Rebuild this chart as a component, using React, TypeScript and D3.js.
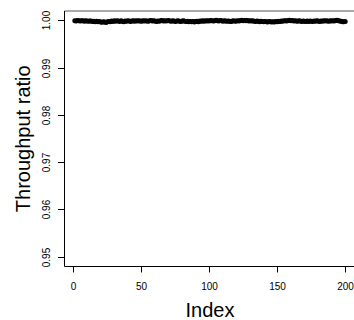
import React from "react";
import * as d3 from "d3";

const ratios: number[] = [
  0.99995, 0.9999, 0.99998, 0.99993, 0.99988, 0.99996, 0.99991, 0.99985, 0.99994, 0.99989,
  0.99982, 0.9999, 0.99986, 0.99978, 0.99984, 0.99975, 0.99981, 0.9997, 0.99976, 0.99968,
  0.99962, 0.99972, 0.99966, 0.99958, 0.9997, 0.9998, 0.99974, 0.99986, 0.99979, 0.99991,
  0.99984, 0.99996, 0.99988, 0.99979, 0.99992, 0.99983, 0.99975, 0.99987, 0.99981, 0.99993,
  0.99986, 0.99978, 0.9999, 0.99995, 0.99984, 0.99991, 0.99987, 0.99996, 0.99989, 0.99983,
  0.99992, 0.99986, 0.99995, 0.9999, 0.99984, 0.99993, 0.99998, 0.99988, 0.99994, 0.99987,
  0.9998, 0.9999, 0.99985, 0.99993, 0.99997, 0.99989, 0.99995, 0.99986, 0.99992, 0.99998,
  0.9999, 0.99983, 0.99993, 0.99987, 0.99979, 0.99988, 0.99995, 0.99984, 0.99978, 0.99986,
  0.99992, 0.99981, 0.99976, 0.99985, 0.99973, 0.9998, 0.9997, 0.99978, 0.99968, 0.99977,
  0.99984, 0.99975, 0.99988, 0.99982, 0.99991, 0.99985, 0.99994, 0.99987, 0.99996, 0.9999,
  0.99999, 0.99992, 0.99986, 0.99996, 1.00002, 0.99993, 0.99988, 0.99997, 0.99991, 0.99985,
  0.99994, 0.99988, 0.99981, 0.9999, 0.99985, 0.99978, 0.99988, 0.99993, 0.99984, 0.9999,
  0.99996, 0.99989, 0.99998, 1.00003, 0.99994, 1.00001, 0.99991, 0.99997, 0.99988, 0.99993,
  0.99986, 0.99991, 0.99984, 0.99978, 0.99987, 0.99981, 0.99975, 0.99984, 0.99979, 0.99972,
  0.9998, 0.99974, 0.99968, 0.99977, 0.99971, 0.99965, 0.99975, 0.99969, 0.9998, 0.99974,
  0.99984, 0.99978, 0.99988, 0.99982, 0.99991, 0.99995, 0.99986, 0.99998, 1.00002, 0.99993,
  0.99999, 0.9999, 0.99996, 0.99988, 0.99984, 0.99992, 0.99986, 0.9998, 0.99989, 0.99983,
  0.99977, 0.99986, 0.9998, 0.9999, 0.99984, 0.99978, 0.99987, 0.99981, 0.99992, 0.99986,
  0.9998, 0.99989, 0.99984, 0.99993, 0.99987, 0.99995, 0.99989, 0.99983, 0.99992, 0.99986,
  0.99994, 0.9999, 0.99998, 1.00004, 0.99992, 0.99986, 0.99982, 0.99975, 0.9997, 0.99978,
];

const xTicks: number[] = [0, 50, 100, 150, 200];
const yTicks: number[] = [0.95, 0.96, 0.97, 0.98, 0.99, 1.0];
const xLabel = "Index";
const yLabel = "Throughput ratio";

const W = 354;
const H = 320;
const font = "'Liberation Sans', Arial, Helvetica, sans-serif";

export default function App() {
  const n = ratios.length;
  const xPad = (n - 1) * 0.04;
  const x = d3.scaleLinear().domain([1 - xPad, n + xPad]).range([64, 356]);
  const yPad = (1.0 - 0.95) * 0.04;
  const y = d3.scaleLinear().domain([0.95 - yPad, 1.0 + yPad]).range([266, 11]);

  const left = x.range()[0] + 0.5;
  const top = y.range()[1];
  const bottom = y.range()[0] + 0.5;

  return (
    <svg
      width={W}
      height={H}
      style={{ position: "absolute", left: 0, top: 0, background: "#fff" }}
    >
      <rect x={0} y={0} width={W} height={H} fill="#fff" />
      <line x1={left} x2={W} y1={top} y2={top} stroke="#555" strokeWidth={1} />
      <line x1={left} x2={left} y1={top} y2={bottom} stroke="#000" strokeWidth={1} />
      <line x1={left} x2={W} y1={bottom} y2={bottom} stroke="#000" strokeWidth={1} />
      {ratios.map((v, i) => (
        <circle key={i} cx={x(i + 1)} cy={y(v)} r={2.5} fill="#000" />
      ))}
      {yTicks.map((t) => {
        const yy = Math.round(y(t)) + 0.5;
        return (
          <g key={t}>
            <line x1={58} x2={left} y1={yy} y2={yy} stroke="#000" />
            <text
              transform={`translate(49.5,${yy}) rotate(-90)`}
              textAnchor="middle"
              fontFamily={font}
              fontSize={10}
              fill="#000"
            >
              {t.toFixed(2)}
            </text>
          </g>
        );
      })}
      {xTicks.map((t) => {
        const xx = Math.round(x(t)) + 0.5;
        return (
          <g key={t}>
            <line x1={xx} x2={xx} y1={bottom} y2={272.5} stroke="#000" />
            <text
              x={xx}
              y={289.5}
              textAnchor="middle"
              fontFamily={font}
              fontSize={10}
              fill="#000"
            >
              {t}
            </text>
          </g>
        );
      })}
      <text
        x={210}
        y={317}
        textAnchor="middle"
        fontFamily={font}
        fontSize={20}
        fill="#000"
      >
        {xLabel}
      </text>
      <text
        transform={`translate(30,${(top + bottom) / 2}) rotate(-90)`}
        textAnchor="middle"
        fontFamily={font}
        fontSize={20}
        fill="#000"
      >
        {yLabel}
      </text>
    </svg>
  );
}
